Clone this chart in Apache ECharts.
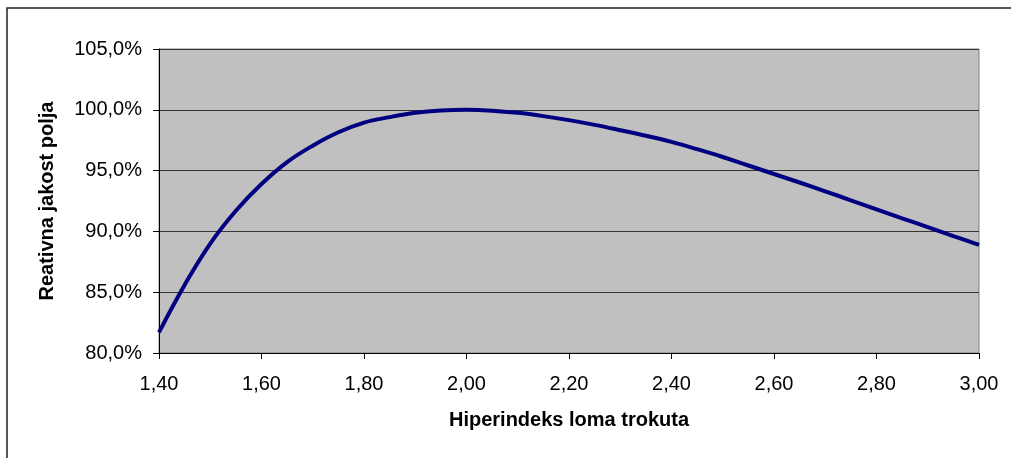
<!DOCTYPE html>
<html>
<head>
<meta charset="utf-8">
<script src="https://cdn.jsdelivr.net/npm/echarts@6/dist/echarts.min.js"></script>
<style>
  html, body { margin: 0; padding: 0; background: #fff; }
  #chart { width: 1011px; height: 458px; }
</style>
</head>
<body>
<div id="chart"></div>
<script>
// hiperindeks loma (x) i relativna jakost polja u % (y)
const indices = [1.40, 1.45, 1.50, 1.55, 1.60, 1.65, 1.70, 1.75, 1.80, 1.85, 1.90, 1.95, 2.00,
  2.05, 2.10, 2.15, 2.20, 2.25, 2.30, 2.35, 2.40, 2.45, 2.50, 2.55, 2.60, 2.65, 2.70,
  2.75, 2.80, 2.85, 2.90, 2.95, 3.00];
const strength = [81.7, 85.6, 89.0, 91.7, 93.9, 95.7, 97.05, 98.15, 98.95, 99.4, 99.75, 99.94, 100.0,
  99.93, 99.75, 99.48, 99.15, 98.76, 98.32, 97.86, 97.36, 96.76, 96.12, 95.42, 94.72, 94.02, 93.3,
  92.56, 91.82, 91.08, 90.35, 89.62, 88.9];

const chart = echarts.init(document.getElementById('chart'));
const font = 'Arial, "Liberation Sans", sans-serif';

chart.setOption({
  animation: false,
  graphic: [{
    type: 'rect',
    shape: { x: 7, y: 8, width: 1100, height: 600 },
    style: { fill: 'none', stroke: '#222', lineWidth: 1.5 },
    silent: true
  }],
  grid: {
    left: 159, top: 49, right: 32, bottom: 105,
    show: true, backgroundColor: '#c0c0c0', borderColor: '#808080', borderWidth: 1
  },
  xAxis: {
    type: 'value',
    min: 1.4, max: 3.0, interval: 0.2,
    name: 'Hiperindeks loma trokuta',
    nameLocation: 'middle', nameGap: 57,
    nameTextStyle: { fontFamily: font, fontSize: 20, fontWeight: 'bold', color: '#000' },
    axisLine: { lineStyle: { color: '#000', width: 1 } },
    axisTick: { length: 6, lineStyle: { color: '#000' } },
    splitLine: { show: false },
    axisLabel: {
      margin: 21, fontFamily: font, fontSize: 20, color: '#000',
      formatter: v => v.toFixed(2).replace('.', ',')
    }
  },
  yAxis: {
    type: 'value',
    min: 80, max: 105, interval: 5,
    name: 'Reativna jakost polja',
    nameLocation: 'middle', nameGap: 102,
    nameTextStyle: { fontFamily: font, fontSize: 20, fontWeight: 'bold', color: '#000' },
    axisLine: { show: true, lineStyle: { color: '#000', width: 1 } },
    axisTick: { show: true, length: 6, lineStyle: { color: '#000' } },
    splitLine: { lineStyle: { color: '#333', width: 1 } },
    axisLabel: {
      margin: 17, fontFamily: font, fontSize: 20, color: '#000',
      formatter: v => v.toFixed(1).replace('.', ',') + '%'
    }
  },
  series: [{
    type: 'line',
    data: indices.map((x, i) => [x, strength[i]]),
    smooth: 0.4,
    showSymbol: false,
    lineStyle: { color: '#000080', width: 4 }
  }]
});
</script>
</body>
</html>
